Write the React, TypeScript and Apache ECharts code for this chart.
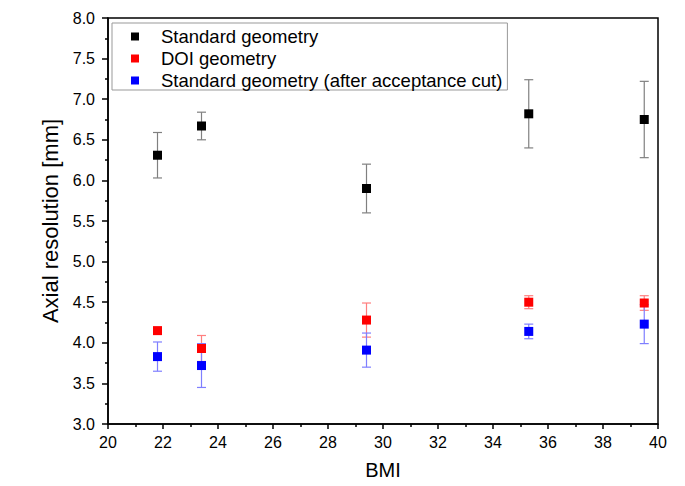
import React, { useEffect, useRef } from "react";
import * as echarts from "echarts";

const bmi = [21.8, 23.4, 29.4, 35.3, 39.5];
const standard = [6.31, 6.67, 5.9, 6.82, 6.75];
const standardErr = [0.28, 0.17, 0.3, 0.42, 0.47];
const doi = [4.15, 3.93, 4.28, 4.5, 4.49];
const doiErr = [0.03, 0.16, 0.21, 0.08, 0.09];
const cut = [3.83, 3.72, 3.91, 4.14, 4.23];
const cutErr = [0.18, 0.27, 0.21, 0.09, 0.24];

const seriesNames = [
  "Standard geometry",
  "DOI geometry",
  "Standard geometry (after acceptance cut)",
];

const FONT = "'Liberation Sans', Arial, sans-serif";

function points(ys: number[]) {
  return bmi.map((x, i) => [x, ys[i]]);
}
function errs(ys: number[], es: number[]) {
  return bmi.map((x, i) => [x, ys[i] - es[i], ys[i] + es[i]]);
}

function errorSeries(name: string, data: number[][], color: string) {
  return {
    type: "custom",
    name: name + " err",
    data,
    encode: { x: 0, y: [1, 2] },
    z: 1,
    silent: true,
    renderItem: (params: any, api: any) => {
      const x = api.value(0);
      const lo = api.coord([x, api.value(1)]);
      const hi = api.coord([x, api.value(2)]);
      const w = 4.5;
      const st = { stroke: color, lineWidth: 1.2 };
      return {
        type: "group",
        children: [
          { type: "line", shape: { x1: hi[0], y1: hi[1], x2: lo[0], y2: lo[1] }, style: st },
          { type: "line", shape: { x1: hi[0] - w, y1: hi[1], x2: hi[0] + w, y2: hi[1] }, style: st },
          { type: "line", shape: { x1: lo[0] - w, y1: lo[1], x2: lo[0] + w, y2: lo[1] }, style: st },
        ],
      };
    },
  };
}

function markerSeries(name: string, ys: number[], color: string) {
  return {
    type: "scatter",
    name,
    data: points(ys),
    symbol: "rect",
    symbolSize: 9,
    itemStyle: { color, opacity: 1 },
    z: 3,
  };
}

export default function App() {
  const ref = useRef<HTMLDivElement>(null);
  useEffect(() => {
    if (!ref.current) return;
    const chart = echarts.init(ref.current, undefined, { renderer: "svg" });
    chart.setOption({
      animation: false,
      backgroundColor: "#ffffff",
      textStyle: { fontFamily: FONT },
      grid: {
        left: 108,
        right: 27,
        top: 18,
        bottom: 62,
        show: true,
        borderColor: "#000",
        borderWidth: 1.5,
      },
      legend: {
        data: seriesNames,
        orient: "vertical",
        left: 112,
        top: 23,
        itemWidth: 8,
        itemHeight: 8,
        itemGap: 3,
        padding: [4, 5, 0, 19],
        borderColor: "#999",
        borderWidth: 1,
        icon: "rect",
        textStyle: { fontSize: 18.5, color: "#000", fontFamily: FONT, padding: [0, 0, 0, 17] },
      },
      xAxis: {
        type: "value",
        min: 20,
        max: 40,
        interval: 2,
        name: "BMI",
        nameLocation: "middle",
        nameGap: 36,
        nameTextStyle: { fontSize: 20, color: "#000", fontFamily: FONT },
        axisLine: { onZero: false, lineStyle: { color: "#000", width: 1.5 } },
        axisTick: { inside: false, length: 5, lineStyle: { color: "#000", width: 1.5 } },
        minorTick: { show: true, splitNumber: 2, length: 3, lineStyle: { color: "#000", width: 1.5 } },
        axisLabel: { fontSize: 16, color: "#000", margin: 10, fontFamily: FONT },
        splitLine: { show: false },
      },
      yAxis: {
        type: "value",
        min: 3,
        max: 8,
        interval: 0.5,
        name: "Axial resolution [mm]",
        nameLocation: "middle",
        nameGap: 41,
        nameTextStyle: { fontSize: 22, color: "#000", fontFamily: FONT },
        axisLine: { onZero: false, lineStyle: { color: "#000", width: 1.5 } },
        axisTick: { inside: false, length: 6, lineStyle: { color: "#000", width: 1.5 } },
        minorTick: { show: true, splitNumber: 2, length: 3, lineStyle: { color: "#000", width: 1.5 } },
        axisLabel: {
          fontSize: 16,
          color: "#000",
          margin: 13,
          fontFamily: FONT,
          formatter: (v: number) => v.toFixed(1),
        },
        splitLine: { show: false },
      },
      series: [
        errorSeries(seriesNames[0], errs(standard, standardErr), "#808080"),
        errorSeries(seriesNames[1], errs(doi, doiErr), "#ff7f7f"),
        errorSeries(seriesNames[2], errs(cut, cutErr), "#7f7fff"),
        markerSeries(seriesNames[0], standard, "#000000"),
        markerSeries(seriesNames[1], doi, "#ff0000"),
        markerSeries(seriesNames[2], cut, "#0000ff"),
      ],
    });
    return () => chart.dispose();
  }, []);
  return (
    <div
      ref={ref}
      style={{ position: "fixed", left: 0, top: 0, width: 685, height: 486, background: "#fff" }}
    />
  );
}
